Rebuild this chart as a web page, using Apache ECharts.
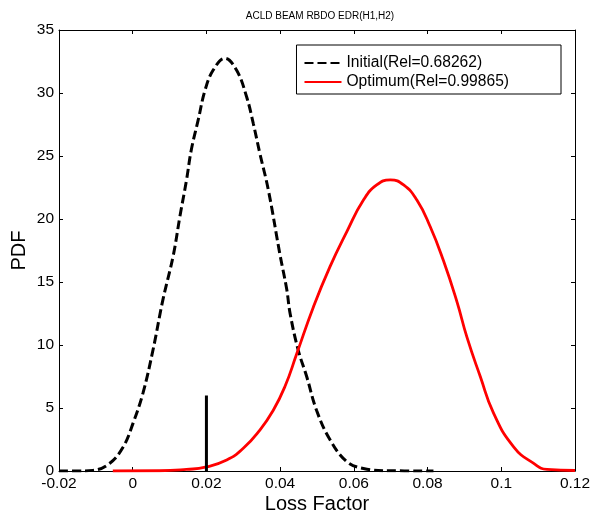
<!DOCTYPE html>
<html><head><meta charset="utf-8">
<script src="https://cdn.jsdelivr.net/npm/echarts@6/dist/echarts.min.js"></script>
<style>html,body{margin:0;padding:0;background:#fff;overflow:hidden}#c{width:591px;height:515px}</style>
</head><body><div id="c"></div>
<script>
const titleText = 'ACLD BEAM RBDO EDR(H1,H2)';
const xTicks = [-0.02, 0, 0.02, 0.04, 0.06, 0.08, 0.1, 0.12];
const yTicks = [0, 5, 10, 15, 20, 25, 30, 35];
const initialName = 'Initial(Rel=0.68262)';
const optimumName = 'Optimum(Rel=0.99865)';
// Initial PDF (black dashed)
const initialX = [-0.02, -0.015, -0.0108, -0.0063, -0.0026, 0.0001, 0.0028, 0.0055, 0.0082, 0.011, 0.0128, 0.0146, 0.0159, 0.0178, 0.0196, 0.0218, 0.025, 0.0282, 0.0309, 0.0327, 0.0345, 0.0368, 0.04, 0.0418, 0.0427, 0.0449, 0.0472, 0.0499, 0.0535, 0.0581, 0.0626, 0.0699, 0.0816];
const initialY = [0, 0, 0.05, 0.6, 1.9, 3.8, 6.2, 9.6, 13.6, 17.1, 20.2, 23.1, 25.5, 27.9, 30.2, 31.8, 32.75, 31.8, 29.7, 27.6, 25.2, 22.3, 17.1, 14.4, 12.5, 9.6, 7.5, 4.8, 2.5, 0.74, 0.2, 0.02, 0];
// Optimum PDF (red)
const optimumX = [-0.0054, 0.0073, 0.0146, 0.0197, 0.0255, 0.03, 0.0345, 0.0381, 0.0413, 0.0445, 0.049, 0.0535, 0.0581, 0.0626, 0.0662, 0.0699, 0.0735, 0.0771, 0.0807, 0.0843, 0.088, 0.0907, 0.0943, 0.0979, 0.1034, 0.1088, 0.1124, 0.12];
const optimumY = [0, 0.02, 0.13, 0.3, 0.87, 1.8, 3.25, 4.8, 6.7, 9.3, 13.0, 16.2, 19.0, 21.5, 22.7, 23.1, 22.7, 21.5, 19.4, 16.7, 13.4, 10.6, 7.5, 4.6, 1.9, 0.6, 0.13, 0.04];
// Limit marker
const limitX = [0.02, 0.02];
const limitY = [0, 6];

const zip = (a, b) => a.map((v, i) => [v, b[i]]);
const font = '"Liberation Sans", Arial, sans-serif';
const fmt = v => String(parseFloat(v.toFixed(4)));

const chart = echarts.init(document.getElementById('c'));
const baseX = {
  type: 'value', min: xTicks[0], max: xTicks[xTicks.length - 1], interval: 0.02,
  splitLine: {show: false},
  axisLine: {show: true, onZero: false, lineStyle: {color: '#000', width: 1}},
  axisTick: {show: true, inside: true, length: 4, lineStyle: {color: '#000'}}
};
const baseY = {
  type: 'value', min: yTicks[0], max: yTicks[yTicks.length - 1], interval: 5,
  splitLine: {show: false},
  axisLine: {show: true, onZero: false, lineStyle: {color: '#000', width: 1}},
  axisTick: {show: true, inside: true, length: 4, lineStyle: {color: '#000'}}
};
chart.setOption({
  animation: false,
  backgroundColor: '#fff',
  title: {text: titleText, left: 315, top: 6, textAlign: 'center',
    textStyle: {fontFamily: font, fontSize: 10, fontWeight: 'normal', color: '#000'}},
  grid: {left: 59, right: 16, top: 30, bottom: 44, containLabel: false, outerBoundsMode: 'none'},
  legend: {
    right: 30, top: 45, orient: 'vertical', itemGap: 3, itemWidth: 37, itemHeight: 14,
    padding: [10, 52, 4, 7], borderColor: '#000', borderWidth: 1, backgroundColor: '#fff',
    textStyle: {fontFamily: font, fontSize: 15.6, color: '#000'},
    itemStyle: {opacity: 0},
    data: [initialName, optimumName]
  },
  xAxis: [
    Object.assign({}, baseX, {position: 'bottom', name: 'Loss Factor', nameLocation: 'middle', nameGap: 23,
      nameMoveOverlap: false,
      nameTextStyle: {fontFamily: font, fontSize: 20, color: '#000'},
      axisLabel: {fontFamily: font, fontSize: 15.5, color: '#000', margin: 5, formatter: fmt}}),
    Object.assign({}, baseX, {position: 'top', axisLabel: {show: false}})
  ],
  yAxis: [
    Object.assign({}, baseY, {position: 'left', name: 'PDF', nameLocation: 'middle', nameGap: 30,
      nameMoveOverlap: false,
      nameTextStyle: {fontFamily: font, fontSize: 20, color: '#000'},
      axisLabel: {fontFamily: font, fontSize: 15.5, color: '#000', margin: 5}}),
    Object.assign({}, baseY, {position: 'right', axisLabel: {show: false}})
  ],
  series: [
    {name: initialName, type: 'line', data: zip(initialX, initialY), smooth: 0.4, symbol: 'none',
      lineStyle: {color: '#000', width: 3, type: [9, 4]}, itemStyle: {color: '#000'}},
    {name: optimumName, type: 'line', data: zip(optimumX, optimumY), smooth: 0.5, symbol: 'none',
      lineStyle: {color: '#ff0000', width: 2.8}, itemStyle: {color: '#ff0000'}},
    {name: 'limit', type: 'line', data: zip(limitX, limitY), symbol: 'none',
      lineStyle: {color: '#000', width: 3}, itemStyle: {color: '#000'}}
  ]
});
</script></body></html>
